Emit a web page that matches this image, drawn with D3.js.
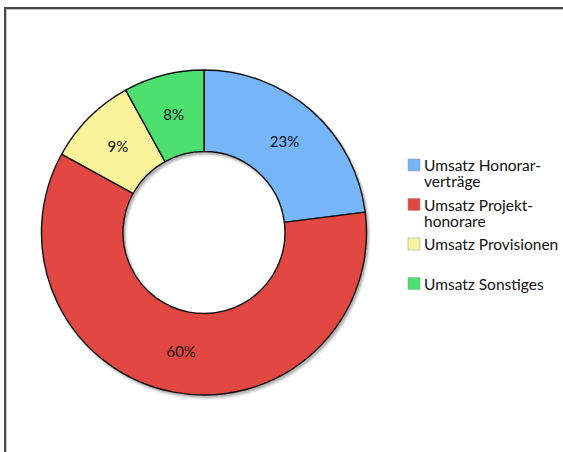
<!DOCTYPE html>
<html>
<head>
<meta charset="utf-8">
<script src="https://cdn.jsdelivr.net/npm/d3@7"></script>
<style>
  html, body { margin: 0; padding: 0; background: #fff; }
  svg { display: block; }
  text { font-family: Lato, "Open Sans", sans-serif; fill: #111; }
</style>
</head>
<body>
<svg id="chart" width="563" height="452"></svg>
<script>
// Revenue split by category
const categories = ["Umsatz Honorarverträge", "Umsatz Projekthonorare", "Umsatz Provisionen", "Umsatz Sonstiges"];
const values = [23, 60, 9, 8];
const colors = ["#74b5f8", "#e34642", "#fbf49d", "#4ee06e"];
// Legend text, wrapped as on the chart
const legendLines = [["Umsatz Honorar-", "verträge"], ["Umsatz Projekt-", "honorare"], ["Umsatz Provisionen"], ["Umsatz Sonstiges"]];

const svg = d3.select("#chart");

// Frame around the chart area
svg.append("rect")
  .attr("x", 5).attr("y", 8).attr("width", 640).attr("height", 500)
  .attr("fill", "none").attr("stroke", "#4a4a4a").attr("stroke-width", 2);
svg.append("rect")
  .attr("x", 6.5).attr("y", 9.5).attr("width", 640).attr("height", 500)
  .attr("fill", "none").attr("stroke", "#c4c4c4").attr("stroke-width", 1);

// Soft drop shadow under the ring
const defs = svg.append("defs");
const f = defs.append("filter").attr("id", "shadow")
  .attr("x", "-10%").attr("y", "-10%").attr("width", "120%").attr("height", "120%");
f.append("feDropShadow").attr("dx", 2).attr("dy", 2.5).attr("stdDeviation", 1)
  .attr("flood-color", "#000").attr("flood-opacity", 0.3);

const cx = 204, cy = 232.5, rOuter = 162.5, rInner = 81;

const pie = d3.pie().sort(null).value(d => d);
const arcs = pie(values);
const arc = d3.arc().innerRadius(rInner).outerRadius(rOuter);

const g = svg.append("g").attr("transform", `translate(${cx},${cy})`);

g.append("g").attr("filter", "url(#shadow)")
  .selectAll("path")
  .data(arcs)
  .join("path")
  .attr("d", arc)
  .attr("fill", (d, i) => colors[i])
  .attr("stroke", "#111")
  .attr("stroke-width", 1.4)
  .attr("stroke-linejoin", "round");

g.selectAll("text.pct")
  .data(arcs)
  .join("text")
  .attr("class", "pct")
  .attr("transform", d => `translate(${arc.centroid(d)})`)
  .attr("text-anchor", "middle")
  .attr("dy", "0.36em")
  .attr("font-size", 15)
  .text(d => d.data + "%");

// Legend: fixed step per entry, second line wraps below the first
const legend = svg.append("g").attr("transform", "translate(408,159)");
const lineH = 16, step = 39.5;
legendLines.forEach((lines, i) => {
  const item = legend.append("g").attr("transform", `translate(0,${i * step})`);
  item.append("rect")
    .attr("x", 0).attr("y", 0).attr("width", 12).attr("height", 12)
    .attr("fill", colors[i]).attr("stroke", "#999").attr("stroke-width", 0.5);
  lines.forEach((ln, k) => {
    item.append("text").attr("x", 16).attr("y", 12 + k * lineH)
      .attr("font-size", 15.5).text(ln);
  });
});
</script>
</body>
</html>
